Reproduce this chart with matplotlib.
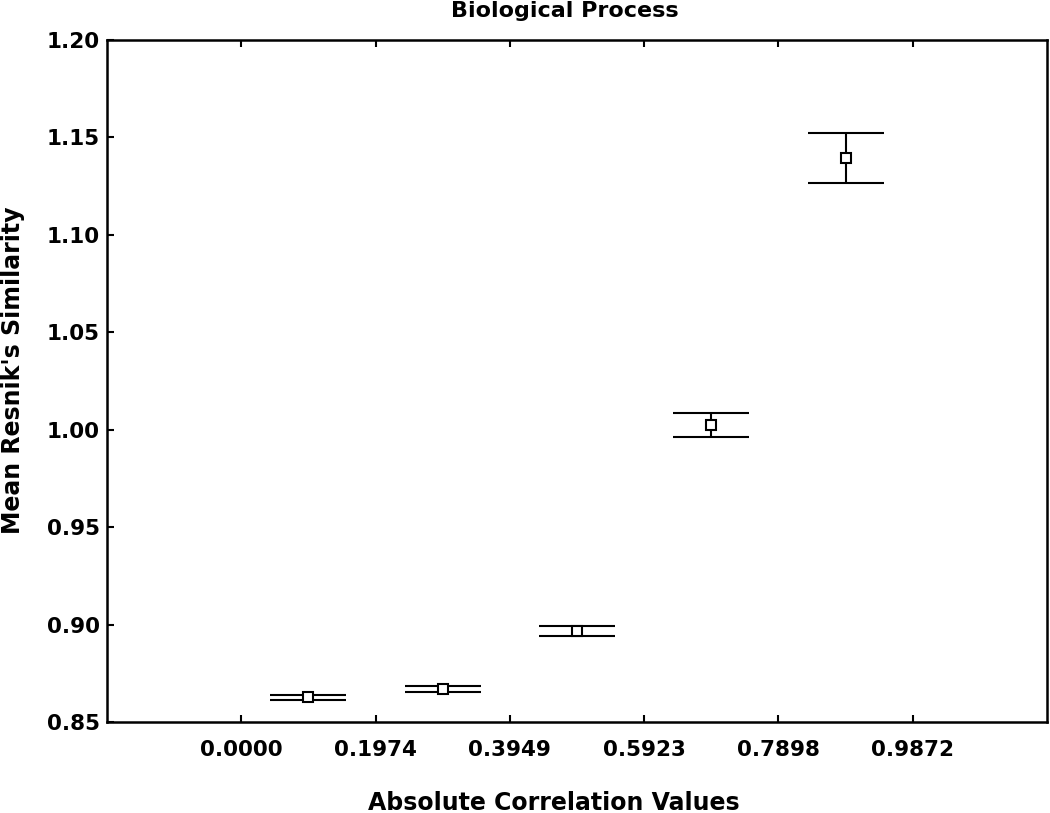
import matplotlib
matplotlib.use("Agg")
import matplotlib.pyplot as plt
import numpy as np

# Data
bin_centers = [0.0987, 0.2961, 0.4936, 0.6910, 0.8885]
mean_sim = [0.8626, 0.8668, 0.8969, 1.0024, 1.1395]
err_sim = [0.0011, 0.0016, 0.0026, 0.0060, 0.0129]
xtick_vals = [0.0000, 0.1974, 0.3949, 0.5923, 0.7898, 0.9872]
xtick_labels = ["0.0000", "0.1974", "0.3949", "0.5923", "0.7898", "0.9872"]
ytick_vals = [0.85, 0.90, 0.95, 1.00, 1.05, 1.10, 1.15, 1.20]
ytick_labels = ["0.85", "0.90", "0.95", "1.00", "1.05", "1.10", "1.15", "1.20"]

plt.rcParams['font.family'] = ['DejaVu Sans']
plt.rcParams['font.weight'] = 'bold'

fig = plt.figure(figsize=(10.5, 8.13), dpi=100)
W, H = 1050, 813
left, right, top, bottom = 107, 1047, 40, 722
ax = fig.add_axes([left / W, 1 - bottom / H, (right - left) / W, (bottom - top) / H])

ax.errorbar(bin_centers, mean_sim, yerr=err_sim, fmt='s', color='black',
            markerfacecolor='white', markeredgecolor='black', markersize=7.5,
            markeredgewidth=1.5, elinewidth=1.5, capsize=27.5, capthick=1.8,
            ecolor='black', zorder=3)

step = 0.19744
ax.set_xlim(-step, 6 * step)
ax.set_ylim(0.85, 1.20)
ax.set_xticks(xtick_vals)
ax.set_xticklabels(xtick_labels)
ax.set_yticks(ytick_vals)
ax.set_yticklabels(ytick_labels)

ax.tick_params(axis='both', direction='in', length=5, width=1.5, labelsize=15.5,
               top=True, right=False)
ax.tick_params(axis='x', pad=13)
ax.tick_params(axis='y', pad=5)
for lbl in ax.get_xticklabels() + ax.get_yticklabels():
    lbl.set_fontweight('bold')
for s in ax.spines.values():
    s.set_linewidth(1.8)

fig.text(565 / W, 1 - 11 / H, "Biological Process", ha='center', va='center',
         fontsize=16, fontweight='bold')
fig.text(554 / W, 1 - 803 / H, "Absolute Correlation Values", ha='center',
         va='center', fontsize=17, fontweight='bold')
fig.text(13 / W, 1 - 370 / H, "Mean Resnik's Similarity", ha='center',
         va='center', rotation=90, fontsize=17, fontweight='bold')

fig.savefig("out.png", dpi=100)
